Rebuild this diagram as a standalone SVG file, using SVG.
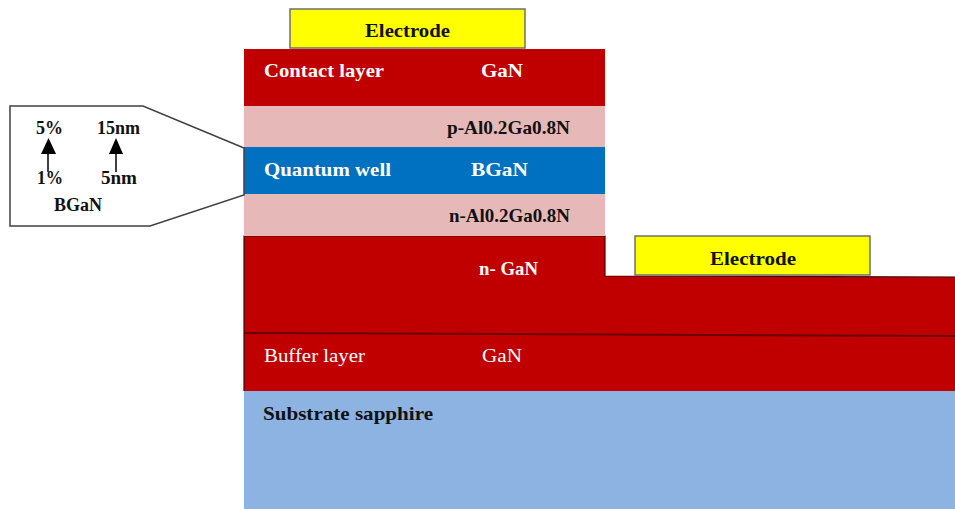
<svg xmlns="http://www.w3.org/2000/svg" width="955" height="509" viewBox="0 0 955 509">
<style>
.b{font-family:"Liberation Serif","Times New Roman",serif;font-weight:bold;font-size:19px}
.r{font-family:"Liberation Serif","Times New Roman",serif;font-size:19px}
.w{fill:#ffffff}
.k{fill:#111111}
.s{font-size:18px}
.el{fill:#ffff00;stroke:#6f6f6f;stroke-width:1.5}
</style>
<rect width="955" height="509" fill="#ffffff"/>
<g id="substrate">
<rect x="244" y="391" width="711" height="118" fill="#8db3e2"/>
<text class="b k" x="263" y="420" textLength="170" lengthAdjust="spacingAndGlyphs">Substrate sapphire</text>
</g>
<g id="n-gan-buffer">
<polygon points="244,236 605,236 605,276 955,277 955,391 244,391" fill="#c00000"/>
<polyline points="244,391 244,236 605,236 605,276 955,277" fill="none" stroke="#3a0a0a" stroke-width="1.2"/>
<line x1="244" y1="333" x2="955" y2="336" stroke="#6a0000" stroke-width="2"/>
<text class="b w" x="479" y="275" textLength="59" lengthAdjust="spacingAndGlyphs">n- GaN</text>
<text class="r w" x="264" y="362" textLength="101" lengthAdjust="spacingAndGlyphs">Buffer layer</text>
<text class="r w" x="482" y="362" textLength="40" lengthAdjust="spacingAndGlyphs">GaN</text>
</g>
<g id="n-algan">
<rect x="244" y="194" width="361" height="42" fill="#e6b9b8"/>
<text class="b k" x="449" y="222" textLength="121" lengthAdjust="spacingAndGlyphs">n-Al0.2Ga0.8N</text>
</g>
<g id="quantum-well">
<rect x="244" y="147" width="361" height="47" fill="#0070c0"/>
<text class="b w" x="264" y="176" textLength="127" lengthAdjust="spacingAndGlyphs">Quantum well</text>
<text class="b w" x="471" y="176" textLength="57" lengthAdjust="spacingAndGlyphs">BGaN</text>
</g>
<g id="p-algan">
<rect x="244" y="106" width="361" height="41" fill="#e6b9b8"/>
<text class="b k" x="447" y="134" textLength="123" lengthAdjust="spacingAndGlyphs">p-Al0.2Ga0.8N</text>
</g>
<g id="contact-layer">
<rect x="244" y="49" width="361" height="57" fill="#c00000"/>
<text class="b w" x="264" y="77" textLength="120" lengthAdjust="spacingAndGlyphs">Contact layer</text>
<text class="b w" x="481" y="77" textLength="42" lengthAdjust="spacingAndGlyphs">GaN</text>
</g>
<g id="electrode-top">
<rect class="el" x="290" y="9" width="235" height="39"/>
<text class="b k" x="365" y="37" textLength="85" lengthAdjust="spacingAndGlyphs">Electrode</text>
</g>
<g id="electrode-right">
<rect class="el" x="635" y="236" width="235" height="39"/>
<text class="b k" x="710" y="265" textLength="86" lengthAdjust="spacingAndGlyphs">Electrode</text>
</g>
<g id="callout">
<polygon points="244,148 143,106 10,106 10,226 150,226 244,195" fill="#ffffff" stroke="#404040" stroke-width="1.5"/>
<text class="b k s" x="36" y="134" textLength="27" lengthAdjust="spacingAndGlyphs">5%</text>
<text class="b k s" x="97" y="134" textLength="43" lengthAdjust="spacingAndGlyphs">15nm</text>
<text class="b k s" x="37" y="184" textLength="26" lengthAdjust="spacingAndGlyphs">1%</text>
<text class="b k s" x="101" y="184" textLength="36" lengthAdjust="spacingAndGlyphs">5nm</text>
<text class="b k s" x="54" y="211" textLength="48" lengthAdjust="spacingAndGlyphs">BGaN</text>
</g>
<g id="connectors">
<line x1="48" y1="172" x2="48" y2="152" stroke="#404040" stroke-width="2"/>
<polygon points="41,154 56,154 48.5,138" fill="#000000"/>
<line x1="116" y1="172" x2="116" y2="152" stroke="#404040" stroke-width="2"/>
<polygon points="109,154 123,154 116,138" fill="#000000"/>
</g>
</svg>
